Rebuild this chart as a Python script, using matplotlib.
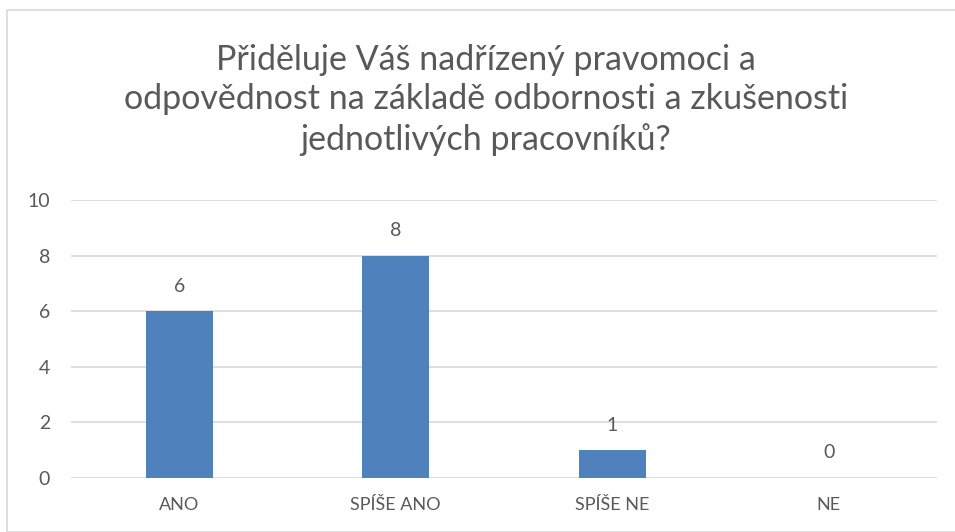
import matplotlib.pyplot as plt
from matplotlib.patches import Rectangle

categories = ["ANO", "SPÍŠE ANO", "SPÍŠE NE", "NE"]
values = [6, 8, 1, 0]
yticks = [0, 2, 4, 6, 8, 10]
title = "Přiděluje Váš nadřízený pravomoci a\nodpovědnost na základě odbornosti a zkušenosti\njednotlivých pracovníků?"

plt.rcParams['font.family'] = ['Lato', 'DejaVu Sans']
txt = '#595959'

W, H = 955, 532
fig = plt.figure(figsize=(W / 100, H / 100), dpi=100)
fig.patches.append(Rectangle((7 / W, 0), 1, 1 - 10 / H, transform=fig.transFigure,
                             fill=False, edgecolor='#d9d9d9', linewidth=1.2))

ax = fig.add_axes([71 / W, 1 - 478 / H, (937 - 71) / W, (478 - 200) / H])
x = range(len(categories))
ax.bar(x, values, width=0.31, color='#4f81bd', zorder=3)
for i, v in enumerate(values):
    ax.annotate(str(v), (i, v), xytext=(0, 18), textcoords='offset points',
                ha='center', va='center', fontsize=14, color=txt)

ax.set_xlim(-0.5, len(categories) - 0.5)
ax.set_ylim(0, 10)
ax.set_yticks(yticks)
ax.set_xticks(list(x))
ax.set_xticklabels(categories)
ax.tick_params(axis='both', length=0, labelsize=13, labelcolor=txt)
ax.tick_params(axis='y', labelsize=14, pad=15)
ax.tick_params(axis='x', pad=14)
ax.grid(axis='y', color='#d9d9d9', linewidth=1.2, zorder=0)
for s in ax.spines.values():
    s.set_visible(False)

fig.text(486 / W, 1 - 100 / H, title, ha='center', va='center', fontsize=24.5,
         color=txt, linespacing=1.3)

fig.savefig('out.png', dpi=100)
